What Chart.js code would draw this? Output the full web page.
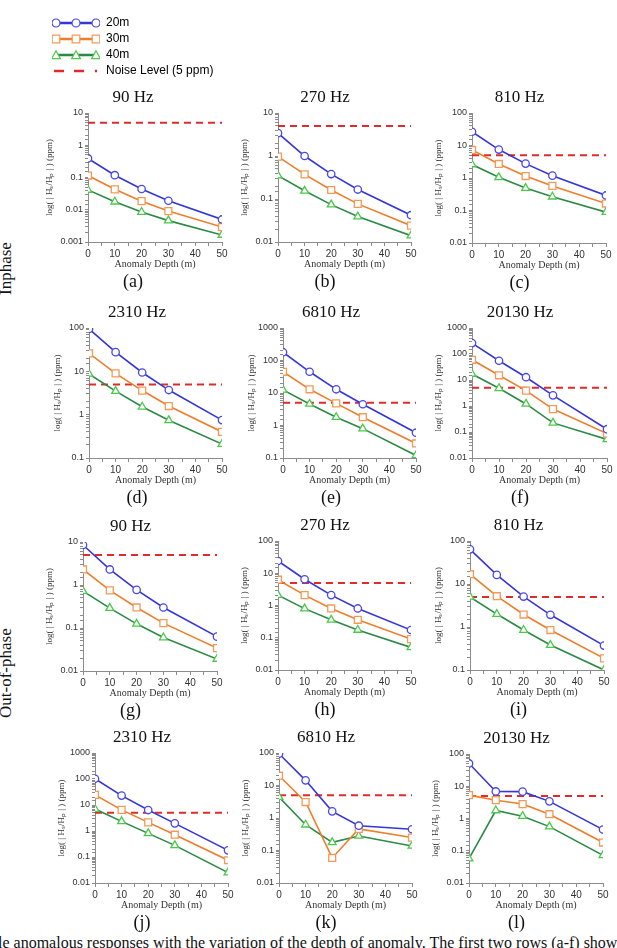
<!DOCTYPE html>
<html>
<head>
<meta charset="utf-8">
<script src="https://cdn.jsdelivr.net/npm/chart.js@4.4.0/dist/chart.umd.min.js"></script>
<style>
html, body { margin: 0; padding: 0; background: #fff; }
#fig { position: relative; width: 617px; height: 948px; overflow: hidden; background: #fff; }
#fig canvas { position: absolute; }
.side { position: absolute; font: 17px/17px "Liberation Serif", serif; color: #111; transform-origin: 0 0; transform: rotate(-90deg); white-space: nowrap; }
.cap { position: absolute; left: -2px; top: 935px; font: 16px/16px "Liberation Serif", serif; color: #111; white-space: nowrap; }
</style>
</head>
<body>
<div id="fig">
  <div class="side" style="left:-3px; top:295px;">Inphase</div>
  <div class="side" style="left:-3px; top:718px;">Out-of-phase</div>
  <div class="cap">le anomalous responses with the variation of the depth of anomaly. The first two rows (a-f) show results</div>
</div>
<script>
"use strict";

const depths = [0, 10, 20, 30, 50];
const noiseLevel = 5;
const seriesNames = ["20m", "30m", "40m"];
const legendNames = ["20m", "30m", "40m", "Noise Level (5 ppm)"];

const freqs = ["90 Hz", "270 Hz", "810 Hz", "2310 Hz", "6810 Hz", "20130 Hz",
               "90 Hz", "270 Hz", "810 Hz", "2310 Hz", "6810 Hz", "20130 Hz"];
const letters = ["(a)", "(b)", "(c)", "(d)", "(e)", "(f)", "(g)", "(h)", "(i)", "(j)", "(k)", "(l)"];
const yMin = [0.001, 0.01, 0.01, 0.1, 0.1, 0.01, 0.01, 0.01, 0.1, 0.01, 0.01, 0.01];
const yMax = [10, 10, 100, 100, 1000, 1000, 10, 100, 100, 1000, 100, 100];

// one row per panel (a)..(l), one value per depth
const m20 = [
    [0.39, 0.118, 0.044, 0.019, 0.005],
    [3.4, 1.0, 0.38, 0.166, 0.042],
    [26.5, 7.5, 2.77, 1.18, 0.29],
    [95, 27.7, 9.4, 3.7, 0.75],
    [180, 45, 13, 4.5, 0.6],
    [263, 55, 12.8, 2.57, 0.128],
    [8.5, 2.3, 0.77, 0.30, 0.063],
    [24, 6.5, 2.1, 0.81, 0.174],
    [64, 16.3, 5.1, 1.92, 0.37],
    [102, 23, 6.4, 1.97, 0.18],
    [95, 14.4, 1.6, 0.58, 0.45],
    [51, 6.9, 6.8, 3.4, 0.455]
];
const m30 = [
    [0.115, 0.043, 0.0185, 0.0091, 0.0029],
    [0.97, 0.374, 0.162, 0.077, 0.024],
    [7.3, 2.7, 1.15, 0.57, 0.164],
    [26, 9.0, 3.6, 1.58, 0.4],
    [45, 13, 4.8, 1.8, 0.28],
    [60, 15.2, 3.9, 0.76, 0.087],
    [2.3, 0.75, 0.30, 0.13, 0.034],
    [6.3, 2.1, 0.81, 0.36, 0.091],
    [16.9, 5.2, 1.95, 0.85, 0.186],
    [24.5, 6.5, 2.15, 0.72, 0.075],
    [20, 3.1, 0.059, 0.46, 0.25],
    [5.3, 3.7, 2.8, 1.36, 0.18]
];
const m40 = [
    [0.041, 0.0177, 0.0085, 0.0046, 0.00165],
    [0.35, 0.155, 0.074, 0.039, 0.014],
    [2.6, 1.05, 0.49, 0.265, 0.089],
    [8.7, 3.5, 1.52, 0.74, 0.21],
    [12.5, 4.6, 1.8, 0.8, 0.12],
    [17, 4.8, 1.2, 0.224, 0.052],
    [0.72, 0.29, 0.125, 0.06, 0.019],
    [2.1, 0.8, 0.36, 0.174, 0.05],
    [5.0, 2.0, 0.85, 0.38, 0.1],
    [7.0, 2.35, 0.81, 0.28, 0.025],
    [4.4, 0.62, 0.178, 0.28, 0.138],
    [0.057, 1.77, 1.18, 0.56, 0.072]
];

// plot area of every panel on the page: left, right, top, bottom
const boxes = [
    [88, 222, 113, 242], [278, 411, 113, 242], [472, 606, 113, 243],
    [89, 222, 328, 458], [283, 416, 328, 458], [472, 607, 328, 458],
    [83, 217, 542, 671], [278, 411, 541, 670], [470, 604, 541, 670],
    [95, 228, 753, 883], [279, 412, 753, 883], [469, 603, 754, 883]
];

const looks = [
    { line: "#3636d8", mark: "#4848e8", shape: "circle", r: 3.7 },
    { line: "#f07d2a", mark: "#f39a58", shape: "rect", r: 4.9 },
    { line: "#2b8a45", mark: "#4cc84c", shape: "triangle", r: 4.5 }
];
const noiseColor = "#e22a2a";
const axisColor = "#8c8c8c";
const TITLE_H = 25, XAXIS_H = 28, SUB_H = 22, PAD_R = 10;

let fig = document.querySelector("#fig");

function yAxisWidth(min)
{
    if (min < 0.005) return 44;
    if (min < 0.05) return 39;
    return 37;
}

function logLabel(v)
{
    let lg = Math.log10(v);
    let e = Math.round(lg);
    if (Math.abs(lg - e) > 1e-6) return "";
    return e < 0 ? Math.pow(10, e).toFixed(-e) : String(Math.pow(10, e));
}

for (let i = 0; i < boxes.length; i++)
{
    let [l, r, t, b] = boxes[i];
    let yw = yAxisWidth(yMin[i]);
    let cv = document.createElement("canvas");
    cv.width = yw + (r - l) + PAD_R;
    cv.height = TITLE_H + (b - t) + XAXIS_H + SUB_H;
    cv.style.left = (l - yw) + "px";
    cv.style.top = (t - TITLE_H) + "px";
    fig.appendChild(cv);

    let sets = [m20, m30, m40].map((m, k) => ({
        label: seriesNames[k],
        data: depths.map((d, j) => ({ x: d, y: m[i][j] })),
        borderColor: looks[k].line,
        borderWidth: 1.6,
        pointStyle: looks[k].shape,
        pointRadius: looks[k].r,
        pointBorderColor: looks[k].mark,
        pointBackgroundColor: "#fff",
        pointBorderWidth: 1.3,
        tension: 0,
        order: 0
    }));
    sets.push({
        label: "Noise Level",
        data: [{ x: depths[0], y: noiseLevel }, { x: depths[depths.length - 1], y: noiseLevel }],
        borderColor: noiseColor,
        borderDash: [7, 5],
        borderWidth: 2,
        pointRadius: 0,
        order: 1
    });

    new Chart(cv, {
        type: "line",
        data: { datasets: sets },
        options: {
            responsive: false,
            animation: false,
            layout: { padding: { left: 0, right: PAD_R, top: 0, bottom: 0 } },
            plugins: {
                legend: { display: false },
                tooltip: { enabled: false },
                title: {
                    display: true, text: freqs[i], color: "#111",
                    font: { family: "Liberation Serif", size: 17, weight: "normal", lineHeight: "20px" },
                    padding: { top: 0, bottom: 5 }
                },
                subtitle: {
                    display: true, position: "bottom", text: letters[i], color: "#111",
                    font: { family: "Liberation Serif", size: 18, weight: "normal", lineHeight: "20px" },
                    padding: { top: 2, bottom: 0 }
                }
            },
            scales: {
                x: {
                    type: "linear", min: 0, max: 50,
                    afterFit: s => { s.height = XAXIS_H; },
                    border: { color: axisColor, width: 1 },
                    grid: { drawOnChartArea: false, tickLength: 4, color: axisColor },
                    ticks: {
                        stepSize: 5, autoSkip: false, maxRotation: 0, padding: 2, color: "#333",
                        font: { family: "Liberation Sans", size: 10 },
                        callback: v => (v % 10 === 0 ? String(v) : "")
                    },
                    title: {
                        display: true, text: "Anomaly Depth (m)", color: "#333", padding: 0,
                        font: { family: "Liberation Serif", size: 10, lineHeight: "12px" }
                    }
                },
                y: {
                    type: "logarithmic", min: yMin[i], max: yMax[i],
                    afterFit: s => { s.width = yw; },
                    border: { color: axisColor, width: 1 },
                    grid: { drawOnChartArea: false, tickLength: 3, color: axisColor },
                    ticks: {
                        autoSkip: false, padding: 2, color: "#333",
                        font: { family: "Liberation Sans", size: 9 },
                        callback: v => logLabel(v)
                    },
                    title: {
                        display: true, text: "log( | Hₛ/Hₚ | ) (ppm)", color: "#333", padding: 0,
                        font: { family: "Liberation Serif", size: 9, lineHeight: "11px" }
                    }
                }
            }
        }
    });
}

// legend at the top left
function legendMark(k)
{
    let c = document.createElement("canvas");
    c.width = 48;
    c.height = 12;
    let g = c.getContext("2d");
    if (k === 3)
    {
        g.strokeStyle = noiseColor;
        g.lineWidth = 2.5;
        [[2, 12], [22, 32], [43, 45]].forEach(s => {
            g.beginPath(); g.moveTo(s[0], 6); g.lineTo(s[1], 6); g.stroke();
        });
        return c;
    }
    g.strokeStyle = looks[k].line;
    g.lineWidth = 2.5;
    g.beginPath(); g.moveTo(4, 6); g.lineTo(44, 6); g.stroke();
    g.strokeStyle = looks[k].mark;
    g.fillStyle = "#fff";
    g.lineWidth = 1.2;
    [4, 24, 44].forEach(x => {
        g.beginPath();
        if (k === 0) g.arc(x, 6, 4, 0, Math.PI * 2);
        else if (k === 1) g.rect(x - 3.8, 2.2, 7.6, 7.6);
        else { g.moveTo(x, 1.8); g.lineTo(x + 4.4, 9.6); g.lineTo(x - 4.4, 9.6); g.closePath(); }
        g.fill(); g.stroke();
    });
    return c;
}

let marks = legendNames.map((n, k) => legendMark(k));
let lc = document.createElement("canvas");
lc.width = 360;
lc.height = 75;
lc.style.left = "48px";
lc.style.top = "13px";
fig.appendChild(lc);

new Chart(lc, {
    type: "line",
    data: { datasets: [] },
    options: {
        responsive: false,
        animation: false,
        layout: { padding: 0 },
        scales: { x: { display: false }, y: { display: false } },
        plugins: {
            tooltip: { enabled: false },
            legend: {
                position: "left", align: "start",
                labels: {
                    usePointStyle: true, pointStyleWidth: 48, padding: 4, color: "#222",
                    font: { family: "Liberation Sans", size: 12 },
                    generateLabels: () => legendNames.map((n, k) => ({
                        text: n, pointStyle: marks[k], fillStyle: "#fff", strokeStyle: "#fff",
                        lineWidth: 0, hidden: false, datasetIndex: k
                    }))
                }
            }
        }
    }
});
</script>
</body>
</html>
